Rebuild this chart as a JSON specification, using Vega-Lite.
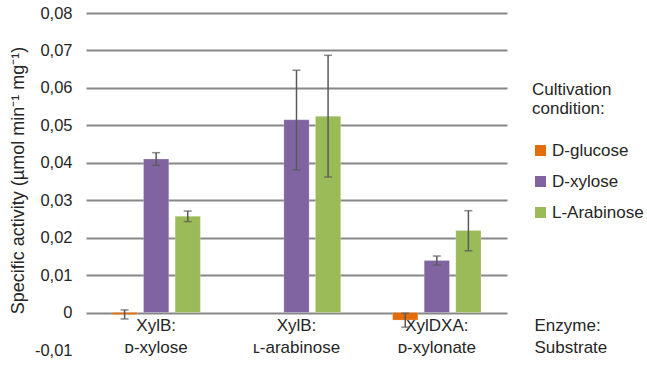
{
  "$schema": "https://vega.github.io/schema/vega-lite/v6.json",
  "width": 421,
  "height": 337,
  "autosize": {"type": "none"},
  "padding": {"left": 86, "top": 13, "right": 140, "bottom": 21},
  "background": "white",
  "config": {
    "font": "Liberation Sans",
    "view": {"stroke": null},
    "axis": {"labelFont": "Liberation Sans", "titleFont": "Liberation Sans", "labelColor": "#262626", "titleColor": "#262626"},
    "legend": {"labelFont": "Liberation Sans", "titleFont": "Liberation Sans"}
  },
  "data": {
    "values": [
      {"enzyme": "XylB: ᴅ-xylose", "condition": "D-glucose", "activity": -0.0005, "lo": -0.0017, "hi": 0.0007},
      {"enzyme": "XylB: ᴅ-xylose", "condition": "D-xylose", "activity": 0.0410, "lo": 0.0393, "hi": 0.0427},
      {"enzyme": "XylB: ᴅ-xylose", "condition": "L-Arabinose", "activity": 0.0257, "lo": 0.0243, "hi": 0.0271},
      {"enzyme": "XylB: ʟ-arabinose", "condition": "D-xylose", "activity": 0.0515, "lo": 0.0381, "hi": 0.0647},
      {"enzyme": "XylB: ʟ-arabinose", "condition": "L-Arabinose", "activity": 0.0524, "lo": 0.0362, "hi": 0.0687},
      {"enzyme": "XylDXA: ᴅ-xylonate", "condition": "D-glucose", "activity": -0.0020, "lo": -0.0039, "hi": -0.0002},
      {"enzyme": "XylDXA: ᴅ-xylonate", "condition": "D-xylose", "activity": 0.0139, "lo": 0.0127, "hi": 0.0151},
      {"enzyme": "XylDXA: ᴅ-xylonate", "condition": "L-Arabinose", "activity": 0.0219, "lo": 0.0165, "hi": 0.0272}
    ]
  },
  "encoding": {
    "x": {
      "field": "enzyme",
      "type": "nominal",
      "sort": null,
      "scale": {"paddingInner": 0.325, "paddingOuter": 0.1625},
      "axis": {
        "orient": "bottom",
        "offset": -37.5,
        "domain": false,
        "ticks": false,
        "labelAngle": 0,
        "labelFontSize": 17,
        "labelLineHeight": 22,
        "labelPadding": 5,
        "labelOverlap": false,
        "labelExpr": "split(datum.label, ' ')",
        "title": ["Enzyme:", "Substrate"],
        "titleFontSize": 17,
        "titleFontWeight": "normal",
        "titleLineHeight": 22,
        "titleAlign": "left",
        "titleBaseline": "top",
        "titleAnchor": "start",
        "titleX": 448,
        "titleY": 5
      }
    },
    "xOffset": {
      "field": "condition",
      "type": "nominal",
      "sort": ["D-glucose", "D-xylose", "L-Arabinose"],
      "scale": {"paddingInner": 0.2, "paddingOuter": 0.1}
    }
  },
  "layer": [
    {
      "mark": {"type": "bar", "stroke": "white", "strokeOpacity": 0.4, "strokeWidth": 0.5},
      "encoding": {
        "y": {
          "field": "activity",
          "type": "quantitative",
          "scale": {"domain": [-0.01, 0.08], "nice": false, "zero": false},
          "axis": {
            "values": [-0.01, 0, 0.01, 0.02, 0.03, 0.04, 0.05, 0.06, 0.07, 0.08],
            "tickCount": 20,
            "labelExpr": "datum.value < 0 ? '-' + replace(format(-datum.value, '.2~f'), '.', ',') : replace(format(datum.value, '.2~f'), '.', ',')",
            "labelOverlap": false,
            "labelBound": false,
            "domain": false,
            "ticks": false,
            "labelFontSize": 16.5,
            "labelPadding": 14,
            "grid": true,
            "gridColor": "#878787",
            "gridWidth": 2,
            "gridOpacity": {"condition": {"test": "datum.value < 0", "value": 0}, "value": 1},
            "title": "Specific activity (µmol min⁻¹ mg⁻¹)",
            "titleFontSize": 18,
            "titleFontWeight": "normal",
            "titleX": -68,
            "titleY": 167,
            "titleAngle": -90,
            "titleBaseline": "middle",
            "titleAlign": "center"
          }
        },
        "color": {
          "field": "condition",
          "type": "nominal",
          "sort": ["D-glucose", "D-xylose", "L-Arabinose"],
          "scale": {"domain": ["D-glucose", "D-xylose", "L-Arabinose"], "range": ["#E46C0A", "#8064A2", "#9BBB59"]},
          "legend": {
            "orient": "none",
            "legendX": 446,
            "legendY": 69,
            "title": ["Cultivation", "condition:"],
            "titleFontSize": 17,
            "titleFontWeight": "normal",
            "titleColor": "#262626",
            "titleLineHeight": 19,
            "titlePadding": 24,
            "labelFontSize": 17,
            "labelColor": "#262626",
            "symbolType": "square",
            "symbolSize": 121,
            "symbolStrokeWidth": 0,
            "rowPadding": 13,
            "labelOffset": 3
          }
        }
      }
    },
    {
      "mark": {"type": "rule", "color": "#595959", "strokeWidth": 1.5},
      "encoding": {
        "y": {"field": "lo", "type": "quantitative"},
        "y2": {"field": "hi"}
      }
    },
    {
      "mark": {"type": "tick", "color": "#595959", "thickness": 1.5, "size": 8, "orient": "horizontal"},
      "encoding": {"y": {"field": "lo", "type": "quantitative"}}
    },
    {
      "mark": {"type": "tick", "color": "#595959", "thickness": 1.5, "size": 8, "orient": "horizontal"},
      "encoding": {"y": {"field": "hi", "type": "quantitative"}}
    }
  ]
}
